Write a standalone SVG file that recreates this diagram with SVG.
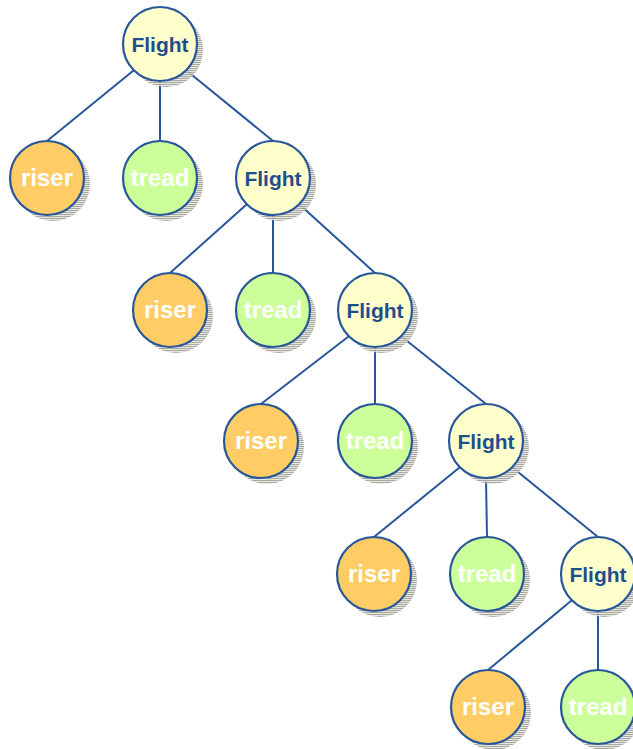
<svg xmlns="http://www.w3.org/2000/svg" width="633" height="749" viewBox="0 0 633 749">
<defs>
<pattern id="hatch" width="4" height="2" patternUnits="userSpaceOnUse">
<rect width="4" height="2" fill="#e2e2dc"/>
<rect width="4" height="1" fill="#a0a098"/>
</pattern>
</defs>
<style>
.sh{fill:url(#hatch);opacity:0.9}
.n{stroke:#27579a;stroke-width:2.2}
.flight .n{fill:#ffffcc}
.riser .n{fill:#ffcc66}
.tread .n{fill:#ccff99}
text{font-family:"Liberation Sans",Arial,sans-serif;font-weight:bold;text-anchor:middle}
.flight text{fill:#1f4e8c;font-size:21px}
.riser text,.tread text{fill:#ffffff;font-size:24px}
#connectors line{stroke:#27579a;stroke-width:2;fill:none}
</style>
<rect width="633" height="749" fill="#ffffff"/>
<g id="connectors">
<line x1="133.5" y1="70.5" x2="47" y2="141"/>
<line x1="160" y1="81" x2="160" y2="141"/>
<line x1="186.5" y1="70.5" x2="273" y2="141"/>
<line x1="246.5" y1="204.5" x2="170" y2="273"/>
<line x1="273" y1="215" x2="273" y2="273"/>
<line x1="299.5" y1="204.5" x2="375" y2="273"/>
<line x1="348.5" y1="336.5" x2="261" y2="404"/>
<line x1="375" y1="347" x2="375" y2="404"/>
<line x1="401.5" y1="336.5" x2="486" y2="404"/>
<line x1="459.5" y1="467.5" x2="374" y2="537"/>
<line x1="486" y1="478" x2="487" y2="537"/>
<line x1="512.5" y1="467.5" x2="598" y2="537"/>
<line x1="571.5" y1="600.5" x2="488" y2="670"/>
<line x1="598" y1="611" x2="598" y2="670"/>
</g>
<g id="flight1" class="flight"><circle class="sh" cx="166" cy="50" r="37"/><circle class="n" cx="160" cy="44" r="37"/><text x="160" y="52">Flight</text></g>
<g id="riser1" class="riser"><circle class="sh" cx="53" cy="184" r="37"/><circle class="n" cx="47" cy="178" r="37"/><text x="47" y="186">riser</text></g>
<g id="tread1" class="tread"><circle class="sh" cx="166" cy="184" r="37"/><circle class="n" cx="160" cy="178" r="37"/><text x="160" y="186">tread</text></g>
<g id="flight2" class="flight"><circle class="sh" cx="279" cy="184" r="37"/><circle class="n" cx="273" cy="178" r="37"/><text x="273" y="186">Flight</text></g>
<g id="riser2" class="riser"><circle class="sh" cx="176" cy="316" r="37"/><circle class="n" cx="170" cy="310" r="37"/><text x="170" y="318">riser</text></g>
<g id="tread2" class="tread"><circle class="sh" cx="279" cy="316" r="37"/><circle class="n" cx="273" cy="310" r="37"/><text x="273" y="318">tread</text></g>
<g id="flight3" class="flight"><circle class="sh" cx="381" cy="316" r="37"/><circle class="n" cx="375" cy="310" r="37"/><text x="375" y="318">Flight</text></g>
<g id="riser3" class="riser"><circle class="sh" cx="267" cy="447" r="37"/><circle class="n" cx="261" cy="441" r="37"/><text x="261" y="449">riser</text></g>
<g id="tread3" class="tread"><circle class="sh" cx="381" cy="447" r="37"/><circle class="n" cx="375" cy="441" r="37"/><text x="375" y="449">tread</text></g>
<g id="flight4" class="flight"><circle class="sh" cx="492" cy="447" r="37"/><circle class="n" cx="486" cy="441" r="37"/><text x="486" y="449">Flight</text></g>
<g id="riser4" class="riser"><circle class="sh" cx="380" cy="580" r="37"/><circle class="n" cx="374" cy="574" r="37"/><text x="374" y="582">riser</text></g>
<g id="tread4" class="tread"><circle class="sh" cx="493" cy="580" r="37"/><circle class="n" cx="487" cy="574" r="37"/><text x="487" y="582">tread</text></g>
<g id="flight5" class="flight"><circle class="sh" cx="604" cy="580" r="37"/><circle class="n" cx="598" cy="574" r="37"/><text x="598" y="582">Flight</text></g>
<g id="riser5" class="riser"><circle class="sh" cx="494" cy="713" r="37"/><circle class="n" cx="488" cy="707" r="37"/><text x="488" y="715">riser</text></g>
<g id="tread5" class="tread"><circle class="sh" cx="604" cy="713" r="37"/><circle class="n" cx="598" cy="707" r="37"/><text x="598" y="715">tread</text></g>
</svg>
